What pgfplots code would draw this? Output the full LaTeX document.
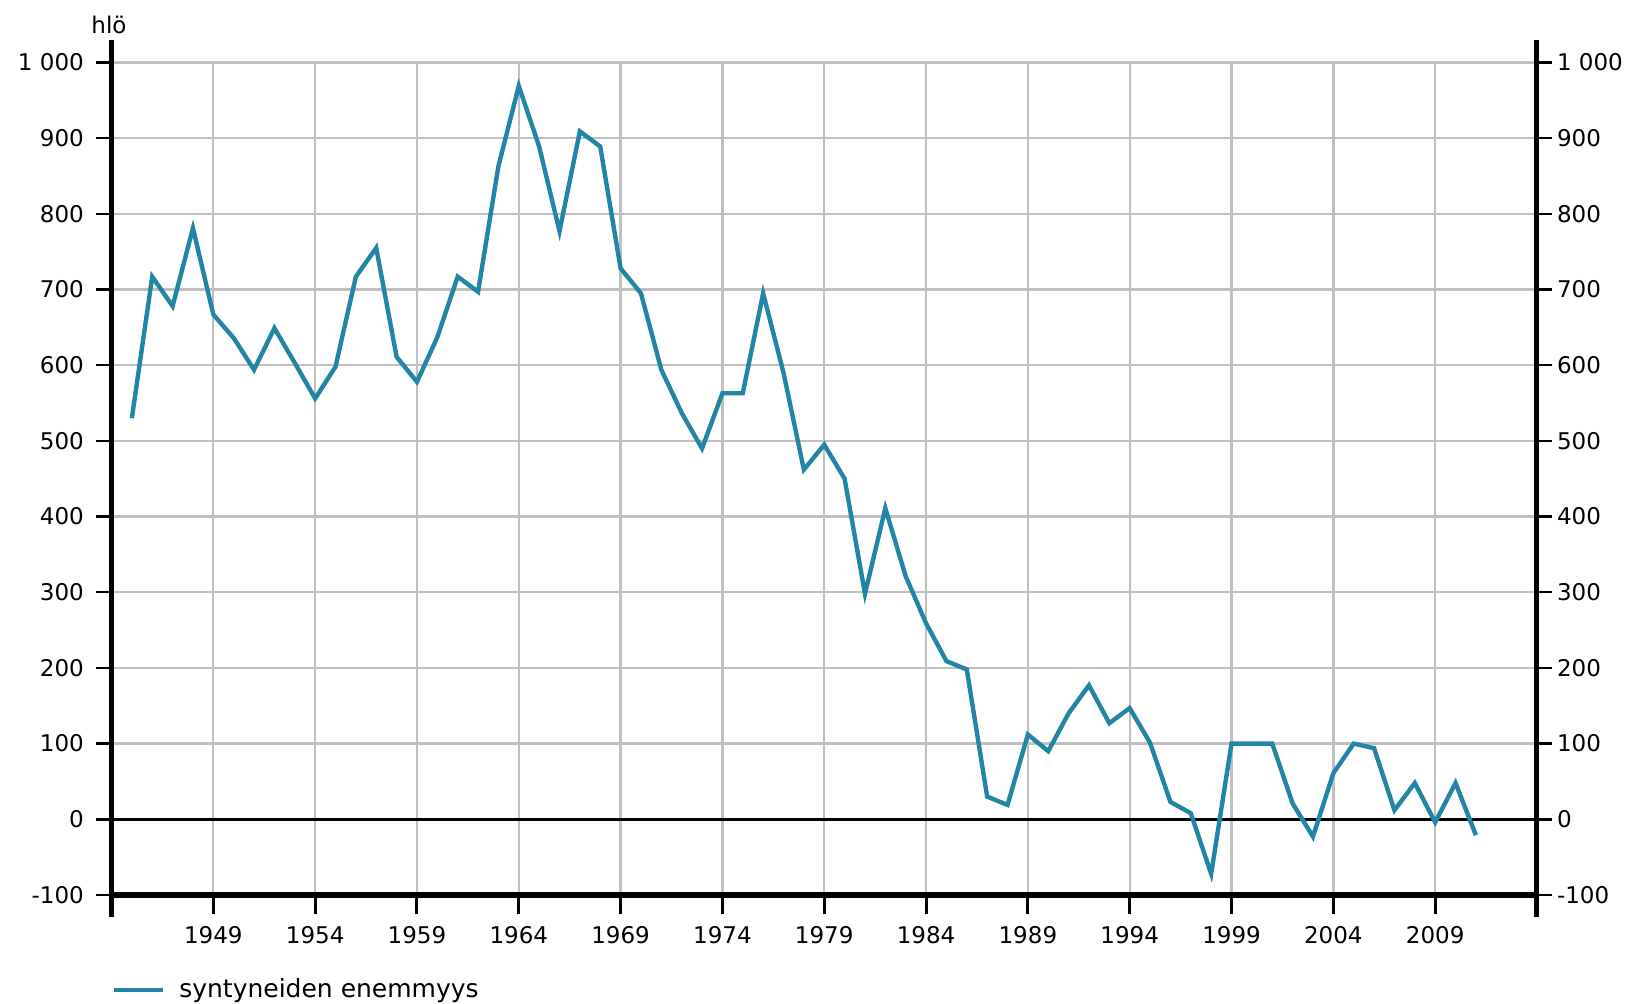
\documentclass[border=0pt]{standalone}
\usepackage{fontspec}
\setmainfont{DejaVu Sans}
\usepackage{pgfplots}
\pgfplotsset{compat=1.18}
\definecolor{linec}{HTML}{2385A5}
\definecolor{gridc}{HTML}{C0C0C0}
\pgfplotstableread{
year val
1945 530
1946 717
1947 678
1948 781
1949 667
1950 636
1951 594
1952 649
1953 603
1954 556
1955 598
1956 717
1957 755
1958 611
1959 578
1960 637
1961 717
1962 697
1963 863
1964 969
1965 889
1966 777
1967 909
1968 889
1969 728
1970 695
1971 594
1972 537
1973 490
1974 563
1975 563
1976 695
1977 590
1978 462
1979 495
1980 450
1981 298
1982 411
1983 321
1984 259
1985 209
1986 198
1987 30
1988 19
1989 112
1990 90
1991 140
1992 177
1993 127
1994 147
1995 101
1996 23
1997 8
1998 -72
1999 100
2000 100
2001 100
2002 21
2003 -23
2004 61
2005 100
2006 94
2007 12
2008 48
2009 -4
2010 48
2011 -21
}\datatable
\newcommand{\tfont}{\fontsize{11.5}{13.8}\selectfont}
\newcommand{\lfont}{\fontsize{12.5}{15}\selectfont}
\begin{document}
\begin{tikzpicture}
\path[use as bounding box] (-55.75pt,-54.5pt) rectangle (761.25pt,447.5pt);
\begin{axis}[
  at={(0,0)}, anchor=south west,
  scale only axis, width=712.75pt, height=416.25pt,
  xmin=1944, xmax=2014, ymin=-100, ymax=1000,
  clip=false,
  axis line style={draw=none},
  xtick={1949,1954,1959,1964,1969,1974,1979,1984,1989,1994,1999,2004,2009},
  xticklabels={1949,1954,1959,1964,1969,1974,1979,1984,1989,1994,1999,2004,2009},
  ytick={-100,0,100,200,300,400,500,600,700,800,900,1000},
  yticklabels={-100,0,100,200,300,400,500,600,700,800,900,1 000},
  xtick pos=left, ytick pos=left,
  tick align=outside,
  major tick length=9.5pt,
  x tick style={black, line width=1.5pt},
  y tick style={draw=none},
  ticklabel style={font=\tfont},
  xticklabel style={yshift=-2.5pt},
  yticklabel style={xshift=-0.8pt},
  ymajorgrids, major grid style={gridc, line width=1.15pt},
  legend style={at={(0,0)}, anchor=west, yshift=-47.5pt, draw=none, fill=none, inner sep=0pt, font=\lfont},
  legend image code/.code={\draw[#1] (0pt,0pt) -- (24.5pt,0pt);},
]
\pgfplotsinvokeforeach{1949,1954,1959,1964,1969,1974,1979,1984,1989,1994,1999,2004,2009}{
  \draw[gridc, line width=1.15pt] (axis cs:#1,-100) -- (axis cs:#1,1000);
}
\draw[black, line width=1.3pt] (axis cs:1944,0) -- (axis cs:2014,0);
\addplot[linec, line width=2.2pt] table[x=year, y=val] {\datatable};
\addlegendentry{\hspace{5pt}syntyneiden enemmyys}
\draw[black, line width=2.5pt] ([yshift=-11pt]rel axis cs:0,0) -- ([yshift=11.25pt]rel axis cs:0,1);
\draw[black, line width=2.5pt] ([yshift=-11pt]rel axis cs:1,0) -- ([yshift=11.25pt]rel axis cs:1,1);
\draw[black, line width=2.7pt] (rel axis cs:0,0) -- (rel axis cs:1,0);
\node[font=\tfont] at ([xshift=-1.25pt, yshift=18.75pt]rel axis cs:0,1) {hlö};
\end{axis}
\begin{axis}[
  at={(0,0)}, anchor=south west,
  scale only axis, width=712.75pt, height=416.25pt,
  xmin=1944, xmax=2014, ymin=-100, ymax=1000,
  axis line style={draw=none},
  xtick=\empty,
  ytick={-100,0,100,200,300,400,500,600,700,800,900,1000},
  yticklabels={-100,0,100,200,300,400,500,600,700,800,900,1 000},
  ytick pos=both, yticklabel pos=right,
  tick align=outside,
  major tick length=7.5pt,
  y tick style={black, line width=1.2pt},
  ticklabel style={font=\tfont},
  yticklabel style={xshift=-1pt},
]
\end{axis}
\end{tikzpicture}
\end{document}
